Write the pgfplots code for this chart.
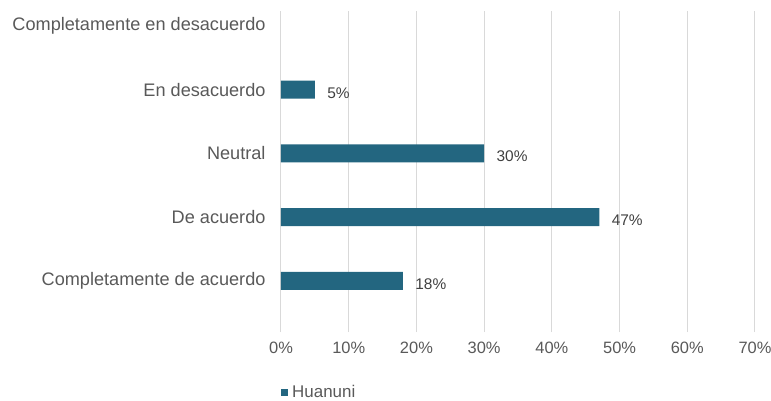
\documentclass[border=0pt]{standalone}
\usepackage{fontspec}
\setmainfont{Liberation Sans}
\usepackage{pgfplots}
\pgfplotsset{compat=1.18}
\definecolor{barcol}{RGB}{35,102,128}
\definecolor{txtgrey}{RGB}{89,89,89}
\definecolor{gridgrey}{RGB}{217,217,217}

\begin{document}
\begin{tikzpicture}
	% page = 771 x 401 px, axis box from x=281..755, y=11..332
	\useasboundingbox (-281bp,-69bp) rectangle (490bp,332bp);
	\begin{axis}[
		at={(0,0)}, anchor=south west,
		scale only axis,
		width=474bp, height=321bp,
		xmin=0, xmax=70,
		ymin=-0.8, ymax=4.235,
		xtick={0,10,...,70},
		xticklabels={0\%,10\%,20\%,30\%,40\%,50\%,60\%,70\%},
		ytick={0,1,2,3,4},
		yticklabels={Completamente de acuerdo, De acuerdo, Neutral, En desacuerdo, Completamente en desacuerdo},
		xmajorgrids,
		grid style={gridgrey, line width=1bp},
		axis line style={draw=none},
		tick style={draw=none},
		/pgf/number format/assume math mode=true,
		x tick label style={font=\fontsize{16.5}{18}\selectfont, text=txtgrey, yshift=-7bp},
		y tick label style={font=\fontsize{18.2}{20}\selectfont, text=txtgrey, anchor=east, xshift=-12bp},
		legend style={at={(axis description cs:0,-0.187)}, anchor=west, draw=none,
			font=\fontsize{17}{19}\selectfont, text=txtgrey, inner sep=0pt,
			legend cell align=left, nodes={inner sep=4bp}},
		legend image code/.code={\fill[barcol] (0bp,-3.5bp) rectangle (7bp,3.5bp);},
	]
	\addplot[xbar, bar width=18bp, fill=barcol, draw=none,
		nodes near coords={\pgfmathprintnumber{\pgfplotspointmeta}\%},
		nodes near coords align={horizontal},
		every node near coord/.append style={font=\fontsize{15.5}{17}\selectfont, text=black!75, anchor=west, xshift=9bp, yshift=-3bp}]
		coordinates {(18,0) (47,1) (30,2) (5,3)};
	\addlegendentry{Huanuni}
	\end{axis}
\end{tikzpicture}
\end{document}
